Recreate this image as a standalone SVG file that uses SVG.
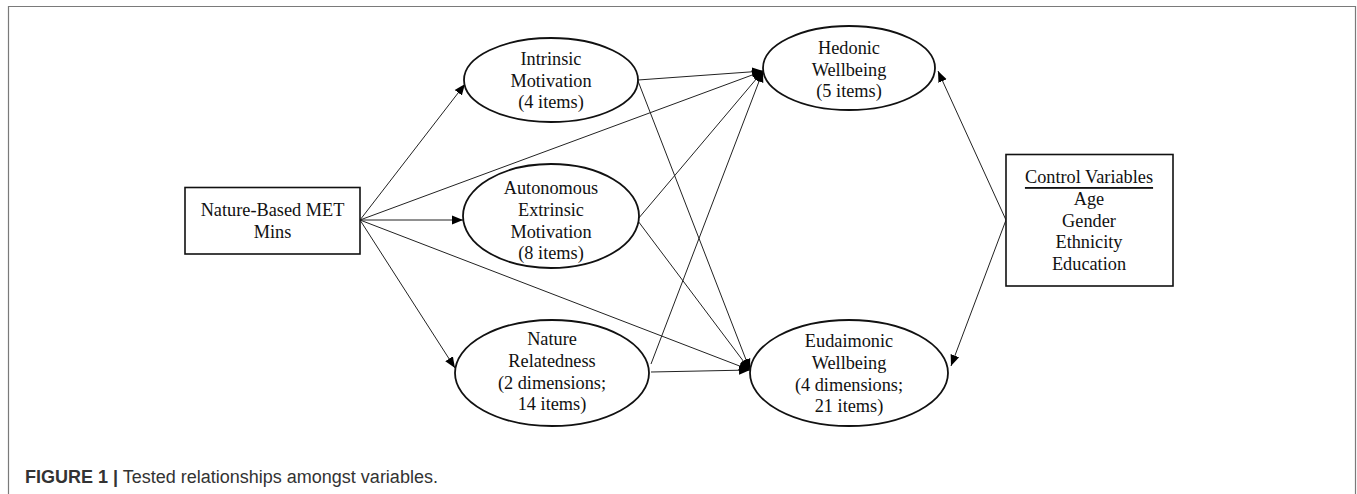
<svg xmlns="http://www.w3.org/2000/svg" width="1357" height="494" viewBox="0 0 1357 494">
<style>
.frame{fill:none;stroke:#7a7a7a;stroke-width:1.2}
.box{fill:#fff;stroke:#111;stroke-width:1.6}
.ell{fill:#fff;stroke:#111;stroke-width:1.8}
.lbl{font-family:"Liberation Serif","Times New Roman",serif;font-size:18.3px;fill:#111;text-anchor:middle;dominant-baseline:central}
.con{fill:none;stroke:#222;stroke-width:1;marker-end:url(#ah)}
.cap{font-family:"Liberation Sans",Arial,sans-serif;font-size:18px;fill:#333}
</style>
<defs>
<marker id="ah" markerUnits="userSpaceOnUse" markerWidth="12" markerHeight="10" refX="11" refY="5" orient="auto">
<path d="M0,0.5 L11,5 L0,9.5 Z" fill="#000"/>
</marker>
</defs>
<rect width="1357" height="494" fill="#fff"/>
<path class="frame" d="M8.5,500 V6.5 H1355.5 V500"/>
<g id="connectors">
<line class="con" x1="360" y1="220" x2="465" y2="84"/>
<line class="con" x1="360" y1="220" x2="763" y2="71"/>
<line class="con" x1="360" y1="220" x2="463" y2="220"/>
<line class="con" x1="360" y1="220" x2="750" y2="370"/>
<line class="con" x1="360" y1="220" x2="455" y2="368"/>
<line class="con" x1="638" y1="80" x2="763" y2="71"/>
<line class="con" x1="638" y1="81" x2="750" y2="370"/>
<line class="con" x1="638" y1="219" x2="763" y2="71"/>
<line class="con" x1="638" y1="221" x2="750" y2="370"/>
<line class="con" x1="651" y1="364" x2="763" y2="71"/>
<line class="con" x1="651" y1="372" x2="750" y2="370"/>
<line class="con" x1="1006" y1="220" x2="938" y2="71"/>
<line class="con" x1="1006" y1="220" x2="951" y2="366"/>
</g>
<g id="source">
<rect class="box" x="185" y="187.5" width="175" height="66.5"/>
<text class="lbl" x="272.5" y="210">Nature-Based MET</text>
<text class="lbl" x="272.5" y="232">Mins</text>
</g>
<g id="intrinsic">
<ellipse class="ell" cx="551" cy="80" rx="87" ry="42"/>
<text class="lbl" x="551" y="59">Intrinsic</text>
<text class="lbl" x="551" y="81">Motivation</text>
<text class="lbl" x="551" y="102">(4 items)</text>
</g>
<g id="autonomous">
<ellipse class="ell" cx="551" cy="216" rx="88" ry="52"/>
<text class="lbl" x="551" y="188">Autonomous</text>
<text class="lbl" x="551" y="210">Extrinsic</text>
<text class="lbl" x="551" y="232">Motivation</text>
<text class="lbl" x="551" y="253">(8 items)</text>
</g>
<g id="nature">
<ellipse class="ell" cx="552" cy="373" rx="97" ry="53"/>
<text class="lbl" x="552" y="339">Nature</text>
<text class="lbl" x="552" y="361">Relatedness</text>
<text class="lbl" x="552" y="383">(2 dimensions;</text>
<text class="lbl" x="552" y="404">14 items)</text>
</g>
<g id="hedonic">
<ellipse class="ell" cx="849" cy="68" rx="86" ry="42"/>
<text class="lbl" x="849" y="48">Hedonic</text>
<text class="lbl" x="849" y="70">Wellbeing</text>
<text class="lbl" x="849" y="91">(5 items)</text>
</g>
<g id="eudaimonic">
<ellipse class="ell" cx="849" cy="373" rx="99" ry="53"/>
<text class="lbl" x="849" y="341">Eudaimonic</text>
<text class="lbl" x="849" y="363">Wellbeing</text>
<text class="lbl" x="849" y="385">(4 dimensions;</text>
<text class="lbl" x="849" y="406">21 items)</text>
</g>
<g id="controls">
<rect class="box" x="1006" y="154.5" width="167" height="131.5"/>
<text class="lbl" x="1089" y="177" text-decoration="underline">Control Variables</text>
<text class="lbl" x="1089" y="199">Age</text>
<text class="lbl" x="1089" y="221">Gender</text>
<text class="lbl" x="1089" y="242">Ethnicity</text>
<text class="lbl" x="1089" y="264">Education</text>
</g>
<text class="cap" x="25" y="483"><tspan font-weight="bold">FIGURE 1 |</tspan> Tested relationships amongst variables.</text>
</svg>
